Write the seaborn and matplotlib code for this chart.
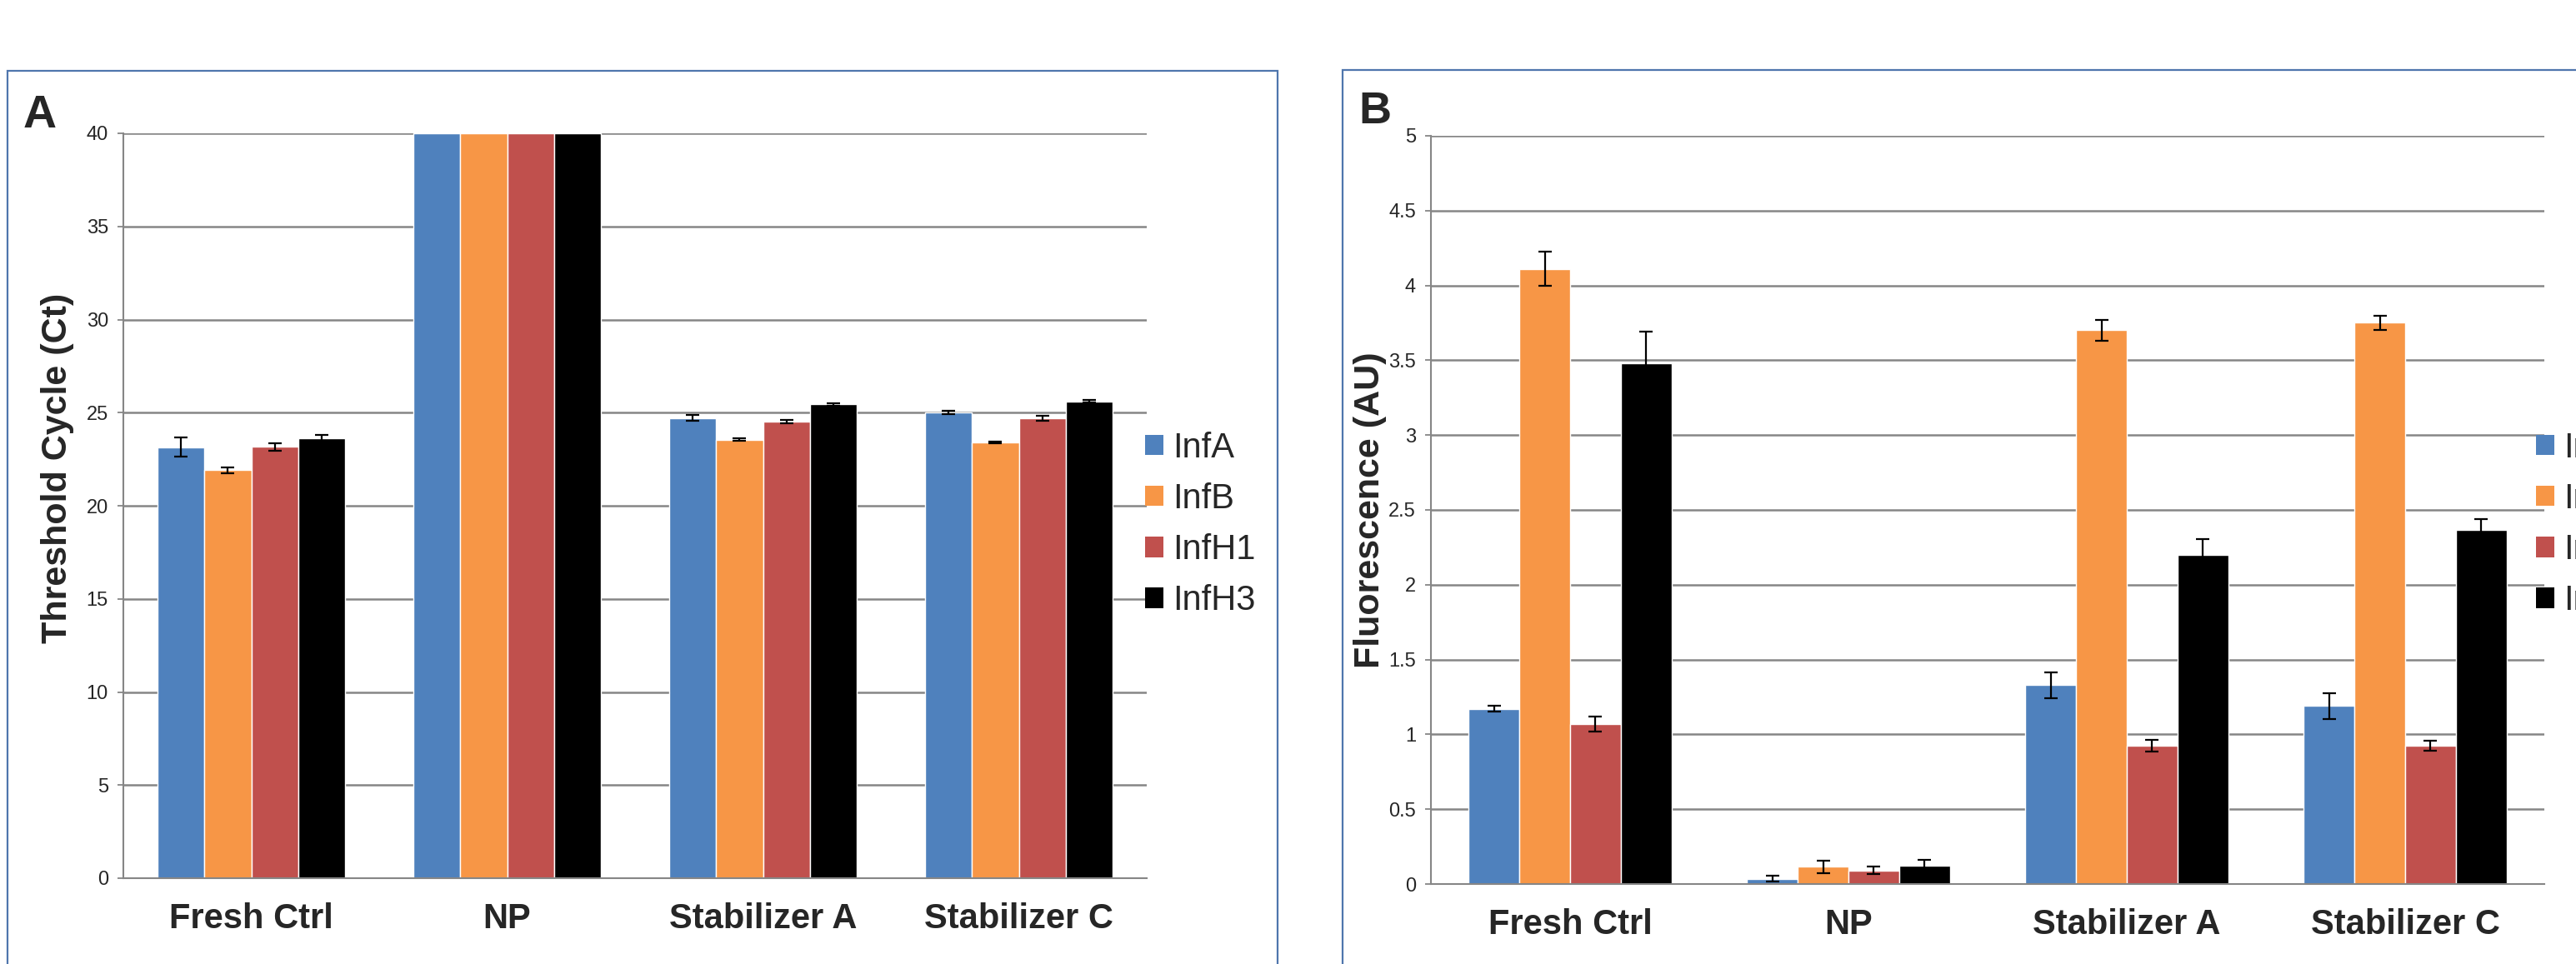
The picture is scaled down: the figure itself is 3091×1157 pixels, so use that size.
import numpy as np
import pandas as pd
import seaborn as sns
import matplotlib.pyplot as plt
from matplotlib.patches import Rectangle, Patch

# categories and series
groups = ["Fresh Ctrl", "NP", "Stabilizer A", "Stabilizer C"]
targets = ["InfA", "InfB", "InfH1", "InfH3"]
colors = ["#4F81BD", "#F79646", "#C0504D", "#000000"]

# panel A: threshold cycle (Ct), one list per target, values per group
ct_infa = [23.15, 40, 24.71, 25.00]
ct_infb = [21.92, 40, 23.55, 23.40]
ct_infh1 = [23.16, 40, 24.52, 24.70]
ct_infh3 = [23.61, 40, 25.44, 25.60]
ct_err_infa = [0.53, np.nan, 0.15, 0.09]
ct_err_infb = [0.16, np.nan, 0.08, 0.04]
ct_err_infh1 = [0.19, np.nan, 0.07, 0.12]
ct_err_infh3 = [0.20, np.nan, 0.08, 0.06]

# panel B: fluorescence (AU)
fl_infa = [1.17, 0.035, 1.33, 1.19]
fl_infb = [4.11, 0.115, 3.70, 3.75]
fl_infh1 = [1.07, 0.09, 0.925, 0.925]
fl_infh3 = [3.48, 0.125, 2.20, 2.365]
fl_err_infa = [0.02, 0.02, 0.087, 0.085]
fl_err_infb = [0.115, 0.04, 0.07, 0.05]
fl_err_infh1 = [0.05, 0.025, 0.037, 0.034]
fl_err_infh3 = [0.21, 0.035, 0.105, 0.075]

ct_ticks = [0, 5, 10, 15, 20, 25, 30, 35, 40]
fl_ticks = [0, 0.5, 1, 1.5, 2, 2.5, 3, 3.5, 4, 4.5, 5]

sns.set_style("white")
plt.rcParams["font.family"] = ["Liberation Sans", "DejaVu Sans"]

W, H = 3091, 1157
GRID = "#868686"


def draw_panel(ax, series, errors, ticks, ylabel):
    df = pd.DataFrame({
        "group": groups * len(targets),
        "target": [t for t in targets for _ in groups],
        "value": [v for s in series for v in s],
    })
    ax.set_axisbelow(True)
    sns.barplot(data=df, x="group", y="value", hue="target", order=groups,
                hue_order=targets, palette=colors, saturation=1, width=0.73,
                errorbar=None, legend=False, ax=ax)
    for cont, errs in zip(ax.containers, errors):
        for bar, e in zip(cont, errs):
            if np.isnan(e):
                continue
            x = bar.get_x() + bar.get_width() / 2
            ax.errorbar(x, bar.get_height(), yerr=e, fmt="none", ecolor="black",
                        elinewidth=1.6, capsize=6, capthick=1.6, zorder=5)

    ax.set_ylim(ticks[0], ticks[-1])
    ax.set_xlim(-0.5, len(groups) - 0.5)
    ax.set_yticks(ticks)
    ax.set_yticklabels([f"{t:g}" for t in ticks], fontsize=17)
    ax.yaxis.grid(True, color=GRID, linewidth=1.8)

    ax.set_xticks(np.arange(len(groups) + 1) - 0.5)
    ax.set_xticklabels([])
    ax.set_xticks(range(len(groups)), minor=True)
    ax.set_xticklabels(groups, minor=True, fontsize=30, fontweight="bold")
    ax.tick_params(axis="x", which="major", length=9.5, width=1.3, color=GRID)
    ax.tick_params(axis="x", which="minor", length=0, pad=21)
    ax.tick_params(axis="y", length=5, width=1.3, color=GRID, pad=8, left=True)

    for side in ["top", "right"]:
        ax.spines[side].set_visible(False)
    for side in ["left", "bottom"]:
        ax.spines[side].set_color(GRID)
        ax.spines[side].set_linewidth(1.5)

    ax.set_xlabel("")
    ax.set_ylabel(ylabel, fontsize=31, fontweight="bold")


fig = plt.figure(figsize=(W / 100, H / 100), dpi=100)

ax_a = fig.add_axes([148 / W, 1 - 1054 / H, 1228 / W, 894 / H])
ax_b = fig.add_axes([1717 / W, 1 - 1061 / H, 1336 / W, 898 / H])

draw_panel(ax_a, [ct_infa, ct_infb, ct_infh1, ct_infh3],
           [ct_err_infa, ct_err_infb, ct_err_infh1, ct_err_infh3],
           ct_ticks, "Threshold Cycle (Ct)")
draw_panel(ax_b, [fl_infa, fl_infb, fl_infh1, fl_infh3],
           [fl_err_infa, fl_err_infb, fl_err_infh1, fl_err_infh3],
           fl_ticks, "Fluorescence (AU)")

ax_a.yaxis.set_label_coords((89 - 148) / 1228, 0.55)
ax_b.yaxis.set_label_coords((1664 - 1717) / 1336, 0.5)

# panel frames
fig.add_artist(Rectangle((9 / W, -0.1), (1533 - 9) / W, (H - 85) / H + 0.1,
                         transform=fig.transFigure, fill=False,
                         edgecolor="#4f76ad", linewidth=1.6))
fig.add_artist(Rectangle((1611 / W, -0.1), 0.6, (H - 84) / H + 0.1,
                         transform=fig.transFigure, fill=False,
                         edgecolor="#4f76ad", linewidth=1.6))

# panel letters
fig.text(28 / W, 1 - 153 / H, "A", fontsize=40, fontweight="bold", va="baseline")
fig.text(1630 / W, 1 - 148 / H, "B", fontsize=39, fontweight="bold", va="baseline")

handles = [Patch(facecolor=c, edgecolor="none", label=t) for c, t in zip(colors, targets)]
for x_px in [1374, 3043]:
    fig.legend(handles=handles, loc="center left",
               bbox_to_anchor=(x_px / W, 1 - 629.5 / H),
               frameon=False, fontsize=30, handlelength=0.53, handleheight=0.53,
               handletextpad=0.27, labelspacing=0.51, borderpad=0, borderaxespad=0)

fig.savefig("out.png", dpi=100)
